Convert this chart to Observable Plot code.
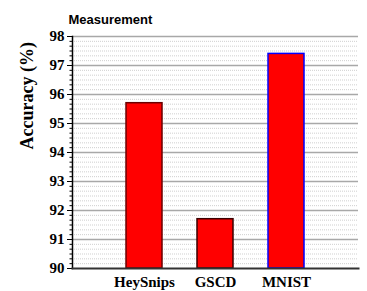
<!DOCTYPE html>
<html>
<head>
<meta charset="utf-8">
<script src="https://cdn.jsdelivr.net/npm/d3@7"></script>
<script src="https://cdn.jsdelivr.net/npm/@observablehq/plot@0.6"></script>
<style>
  html, body { margin: 0; padding: 0; background: #fff; }
  #chart { width: 367px; height: 291px; }
  #chart text.ylab { font-family: 'Liberation Serif', 'Times New Roman', serif !important; font-weight: bold !important; font-variant: normal !important; font-variant-numeric: normal !important; }
</style>
</head>
<body>
<div id="chart"></div>
<script>
// ---- data ----
const categories = ["HeySnips", "GSCD", "MNIST"];
const accuracy = [95.7, 91.7, 97.4];
const yTickValues = [90, 91, 92, 93, 94, 95, 96, 97, 98];
const titleText = "Measurement";
const yLabelText = "Accuracy (%)";

// ---- styles ----
const edgeColors = {HeySnips: "#6b0000", GSCD: "#3a0000", MNIST: "#0000ff"};
const serif = "'Liberation Serif', 'Times New Roman', serif";
const sans = "'Liberation Sans', Arial, sans-serif";

const data = categories.map((c, i) => ({name: c, value: accuracy[i]}));
const yMin = yTickValues[0], yMax = yTickValues[yTickValues.length - 1];
const minorTicks = d3.range(yMin * 6, yMax * 6 + 1).map(v => v / 6).filter(v => Math.abs(v - Math.round(v)) > 1e-6);
const yLabels = yTickValues.map(v => ({v, label: String(v)}));

const chart = Plot.plot({
  width: 367,
  height: 291,
  marginLeft: 72,
  marginRight: 9,
  marginTop: 36,
  marginBottom: 23,
  style: {background: "#fff", overflow: "visible"},
  x: {type: "band", domain: categories, paddingInner: 0.5, paddingOuter: 0.75},
  y: {domain: [yMin, yMax]},
  marks: [
    Plot.ruleY(minorTicks, {stroke: "#cfcfcf", strokeWidth: 1, strokeDasharray: "1,1"}),
    Plot.ruleY(yTickValues.slice(1), {stroke: "#a8a8a8", strokeWidth: 1.5}),
    Plot.barY(data, {
      x: "name", y1: () => yMin, y2: "value",
      fill: "#ff0000",
      stroke: d => edgeColors[d.name],
      strokeWidth: 1.5,
      inset: 0
    }),
    Plot.axisY({ticks: minorTicks, tickSize: 2.5, text: null, label: null, stroke: "#000"}),
    Plot.axisY({ticks: yTickValues, tickSize: 5, text: null, label: null, stroke: "#000"}),
    Plot.text(yLabels, {y: "v", text: "label", frameAnchor: "left", textAnchor: "end", dx: -8,
      fontSize: 15, fontWeight: "bold", fontFamily: serif, fontVariant: "normal", fill: "#000", className: "ylab"}),
    Plot.axisX({tickSize: 0, tickPadding: 8, label: null, fontSize: 15, fontWeight: "bold", fontFamily: serif, fill: "#000"}),
    Plot.frame({anchor: "left", stroke: "#000", strokeWidth: 1.5}),
    Plot.frame({anchor: "bottom", stroke: "#333", strokeWidth: 2}),
    Plot.text([yLabelText], {frameAnchor: "left", rotate: -90, dx: -45, dy: -3,
      fontSize: 18, fontWeight: "bold", fontFamily: serif, fill: "#000"}),
    Plot.text([titleText], {frameAnchor: "top-left", textAnchor: "start", dx: -4, dy: -22,
      fontSize: 13, fontWeight: "bold", fontFamily: sans, fill: "#000"})
  ]
});
document.getElementById("chart").appendChild(chart);
</script>
</body>
</html>
